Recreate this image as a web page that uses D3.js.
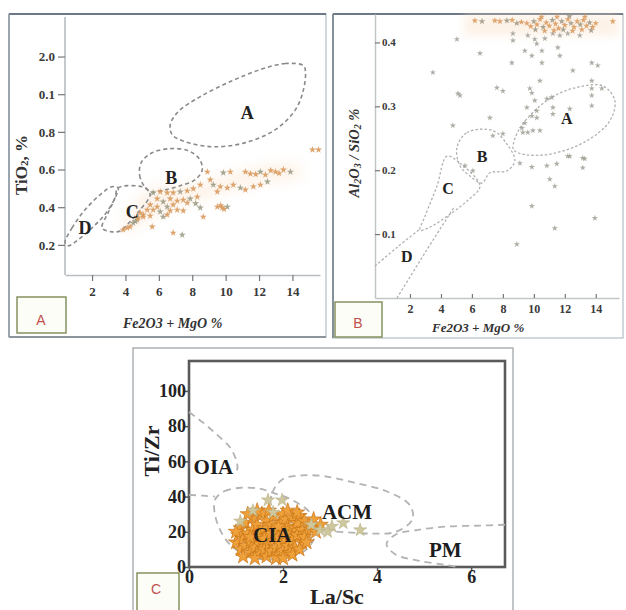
<!DOCTYPE html>
<html>
<head>
<meta charset="utf-8">
<script src="https://cdn.jsdelivr.net/npm/d3@7"></script>
<style>
  html, body { margin: 0; padding: 0; background: #fff; }
  svg { display: block; }
  text { font-family: "Liberation Serif", "DejaVu Serif", serif; }
</style>
</head>
<body>
<svg id="fig" width="626" height="610"></svg>
<script>
// ---------- Panel A: TiO2 vs Fe2O3 + MgO ----------
const aYTickValues = [0.2, 0.4, 0.6, 0.8, 1.0, 1.2];
const aYTickLabels = ["0.2", "0.4", "0.6", "0.8", "0.1", "2.0"];
const aXTickValues = [2, 4, 6, 8, 10, 12, 14];

const aFieldA = [[14.66,1.152],[13.58,1.163],[12.08,1.131],[10.28,1.067],[8.48,0.987],[7.16,0.907],[6.68,0.838],[6.8,0.785],[7.58,0.748],[9.26,0.721],[11.18,0.743],[12.98,0.812],[14.18,0.918],[14.66,1.024],[14.78,1.12]];
const aFieldB = [[5.48,0.482],[4.88,0.556],[4.94,0.636],[5.6,0.689],[6.68,0.711],[7.76,0.7],[8.42,0.657],[8.6,0.599],[8.18,0.546],[7.28,0.514],[6.38,0.493]];
const aFieldC = [[3.56,0.503],[5.18,0.503],[5.48,0.466],[4.88,0.386],[4.16,0.312],[3.68,0.274],[3.2,0.269],[2.6,0.29],[2.96,0.37],[3.38,0.45]];
const aFieldD = [[0.38,0.211],[0.8,0.29],[1.58,0.386],[2.48,0.466],[3.2,0.509],[3.56,0.503],[3.44,0.461],[2.84,0.37],[2.0,0.29],[1.16,0.227],[0.56,0.195]];
const aFieldLabels = [["A",11.3,0.9],["B",6.74,0.556],["C",4.4,0.377],["D",1.58,0.29]];

const aSamples = [[15.2,0.705],[15.56,0.705],
  [8.9,0.588],[9.86,0.583],[10.28,0.588],[11.18,0.588],[11.48,0.578],[12.08,0.588],[12.38,0.572],[12.98,0.588],[13.46,0.599],[13.88,0.588],[13.2,0.58],[12.7,0.595],[11.8,0.575],
  [9.26,0.519],[9.68,0.509],[10.1,0.503],[10.46,0.519],[10.88,0.503],[11.18,0.493],[11.66,0.509],[12.08,0.519],[12.5,0.535],[9.5,0.482],[9.08,0.546],[8.48,0.519],
  [5.66,0.477],[6.08,0.482],[6.5,0.477],[6.86,0.477],[7.28,0.482],[7.7,0.487],[8.06,0.498],
  [5.9,0.445],[6.26,0.429],[6.68,0.445],[7.1,0.434],[7.46,0.439],[7.88,0.445],[8.3,0.455],
  [5.48,0.413],[5.9,0.402],[6.5,0.402],[6.86,0.413],
  [5.3,0.386],[5.66,0.386],[6.08,0.376],[6.68,0.381],[7.1,0.386],[7.46,0.381],[8.48,0.397],
  [4.88,0.37],[5.06,0.349],[4.7,0.333],[4.46,0.317],[4.28,0.296],[4.1,0.29],[3.86,0.28],[4.6,0.325],[4.76,0.344],[5.06,0.36],[5.48,0.354],[6.26,0.349],[6.5,0.36],[8.66,0.349],
  [6.86,0.264],[7.4,0.253],[5.6,0.296],
  [9.5,0.402],[9.8,0.397],[10.1,0.402],[9.7,0.41],[9.9,0.39],
  [7.7,0.423],[8.2,0.42]];

// ---------- Panel B: Al2O3/SiO2 vs Fe2O3 + MgO ----------
const bYTickValues = [0.1, 0.2, 0.3, 0.4];
const bXTickValues = [2, 4, 6, 8, 10, 12, 14];

const bFieldA = [[8.65,0.235],[9.1,0.266],[10.84,0.309],[12.52,0.328],[14.45,0.332],[15.23,0.309],[14.9,0.277],[13.42,0.246],[11.23,0.226],[9.55,0.224],[8.77,0.23]];
const bFieldB = [[5.03,0.235],[5.68,0.259],[7.35,0.262],[8.26,0.241],[8.77,0.215],[8.26,0.199],[7.16,0.196],[6.65,0.18],[5.87,0.191],[5.23,0.207]];
const bFieldC = [[4.39,0.222],[5.23,0.211],[6.52,0.175],[5.74,0.153],[4.58,0.131],[3.29,0.111],[2.65,0.106],[2.97,0.128],[3.74,0.175]];
const bLineD1 = [[-0.26,0.05],[1.2,0.08],[2.65,0.108]];
const bLineD2 = [[1.16,0.0],[3.0,0.072],[4.9,0.144]];
const bFieldLabels = [["A",12.13,0.281],["B",6.65,0.222],["C",4.45,0.172],["D",1.8,0.065]];

const bBand = [[9.55,0.43],[9.8,0.425],[10.0,0.433],[10.2,0.428],[10.4,0.436],[10.6,0.424],[10.8,0.431],[11.0,0.426],[11.2,0.435],[11.4,0.429],[11.6,0.422],[11.8,0.433],[12.0,0.427],[12.2,0.436],[12.4,0.43],[12.6,0.424],[12.8,0.433],[13.0,0.428],[13.2,0.435],[13.4,0.426],[13.6,0.431],[13.8,0.424],[14.0,0.43],[10.1,0.42],[10.7,0.418],[11.3,0.419],[11.9,0.42],[12.5,0.418],[13.1,0.42],[13.7,0.419],[10.5,0.44],[11.5,0.44],[12.3,0.441],[13.3,0.44],[9.2,0.432],[8.9,0.43],[8.6,0.435],[6.19,0.434],[6.65,0.433],[7.48,0.434],[7.81,0.433],[8.26,0.434],[15.1,0.433]];
const bScatter = [[8.65,0.414],[8.65,0.403],[9.61,0.411],[10.06,0.405],[10.71,0.406],[11.23,0.414],[11.68,0.411],[12.19,0.414],[12.97,0.411],[5.03,0.405],[9.42,0.387],[10.19,0.398],[10.52,0.387],[11.55,0.392],[11.68,0.379],[9.87,0.379],[10.52,0.368],[6.52,0.383],[8.58,0.368],[13.74,0.368],[14.13,0.364],[12.52,0.356],[3.48,0.353],[13.74,0.34],[10.39,0.34],[7.61,0.329],[8.0,0.324],[9.74,0.328],[9.87,0.321],[13.74,0.328],[14.39,0.328],[5.23,0.317],[10.06,0.309],[10.84,0.312],[11.16,0.314],[13.74,0.317],[12.32,0.296],[9.55,0.298],[11.23,0.298],[10.19,0.293],[13.74,0.301],[11.23,0.288],[7.16,0.282],[10.19,0.282],[4.77,0.27],[8.0,0.257],[9.29,0.259],[9.61,0.259],[9.94,0.262],[10.39,0.262],[9.23,0.266],[9.42,0.274],[9.87,0.285],[12.19,0.222],[13.16,0.219],[9.1,0.211],[9.87,0.205],[10.84,0.207],[11.48,0.21],[11.03,0.186],[11.35,0.175],[13.29,0.218],[13.16,0.204],[9.87,0.144],[11.35,0.109],[8.9,0.084],[13.94,0.125],[12.32,0.222],[7.35,0.254],[5.1,0.32],[5.55,0.207],[6.06,0.199]];

// ---------- Panel C: Ti/Zr vs La/Sc ----------
const cXTickValues = [0, 2, 4, 6];
const cYTickValues = [0, 20, 40, 60, 80, 100];

const cOIA = [[0,88],[0.3,82],[0.6,75],[0.87,68],[1.0,61],[1.03,56],[0.98,53]];
const cLine40 = [[0,41],[0.3,40.5],[0.55,40]];
const cCIA = [[0.55,38],[0.75,43],[1.1,45],[1.5,44.5],[1.8,42],[2.2,38],[2.6,30],[2.7,20],[2.5,10],[2.0,5],[1.4,5],[0.9,12],[0.6,25]];
const cACM = [[1.77,32],[1.77,42],[2.0,50],[2.4,52],[2.9,51.5],[3.5,48],[4.2,43],[4.7,35],[4.75,27],[4.4,20],[3.9,19],[3.2,20],[2.7,21]];
const cPM = [[6.72,24],[6.2,23.5],[5.5,23],[4.85,21],[4.4,18.5],[4.2,13],[4.4,7],[4.9,3.5],[5.5,1],[5.7,0]];
const cFieldLabels = [["OIA",0.52,57],["ACM",3.36,31],["CIA",1.77,18],["PM",5.45,9.5]];

const cCluster = [[1.0,14],[1.05,18],[1.1,10],[1.1,22],[1.15,16],[1.2,12],[1.2,25],[1.25,19],[1.3,8],[1.3,14],[1.35,21],[1.35,28],[1.4,11],[1.4,17],[1.45,24],[1.5,7],[1.5,13],[1.5,19],[1.55,30],[1.55,15],[1.6,10],[1.6,22],[1.65,26],[1.65,6],[1.7,13],[1.7,18],[1.75,9],[1.75,24],[1.8,15],[1.8,29],[1.85,11],[1.85,20],[1.9,7],[1.9,17],[1.95,25],[1.95,13],[2.0,9],[2.0,21],[2.0,30],[2.05,16],[2.05,27],[2.1,12],[2.1,23],[2.15,19],[2.15,8],[2.2,28],[2.2,15],[2.25,22],[2.25,11],[2.3,25],[2.3,18],[2.35,29],[2.4,21],[2.4,14],[2.45,26],[2.5,19],[2.55,24],[2.6,22],[2.65,27],[1.25,30],[1.45,32],[1.7,32],[2.1,32],[2.3,31],[1.0,20],[1.15,6],[1.4,5],[1.85,5],[2.0,5],[2.2,7],[2.35,10],[1.6,16],[1.9,23],[2.05,19],[1.3,17],[1.75,19],[2.45,17],[2.7,20],[2.8,24],[2.5,14]];
const cOutliers = [[1.68,38],[1.98,38],[1.36,32],[1.09,26],[1.79,31],[2.79,21],[3.04,23],[3.28,25],[3.64,21],[2.6,24],[2.95,20]];

// ---------- drawing ----------
const svg = d3.select("#fig");

const star = size => d3.symbol().type(d3.symbolStar).size(size)();
const closedPath = (g, pts, x, y, style) =>
  g.append("path")
    .attr("d", d3.line().x(d => x(d[0])).y(d => y(d[1])).curve(d3.curveCatmullRomClosed.alpha(0.5))(pts))
    .attr("fill", "none").attr("stroke", style.color).attr("stroke-width", style.width)
    .attr("stroke-dasharray", style.dash);
const openPath = (g, pts, x, y, style) =>
  g.append("path")
    .attr("d", d3.line().x(d => x(d[0])).y(d => y(d[1])).curve(d3.curveCatmullRom.alpha(0.5))(pts))
    .attr("fill", "none").attr("stroke", style.color).attr("stroke-width", style.width)
    .attr("stroke-dasharray", style.dash);

function panelTag(x, y, w, h, letter, tx, ty) {
  svg.append("rect").attr("x", x).attr("y", y).attr("width", w).attr("height", h)
    .attr("fill", "#fdfdf8").attr("stroke", "#7d8a55").attr("stroke-width", 1.4);
  svg.append("text").attr("x", tx).attr("y", ty).attr("text-anchor", "middle")
    .attr("dominant-baseline", "central")
    .style("font-family", "'Liberation Sans', Arial, sans-serif")
    .style("font-size", "14px").attr("fill", "#c0504d").text(letter);
}

// ----- Panel A -----
{
  const g = svg.append("g");
  g.append("rect").attr("x", 9).attr("y", 14).attr("width", 317).attr("height", 323)
    .attr("fill", "#fff").attr("stroke", "#b4bcc4").attr("stroke-width", 1.2);
  g.append("line").attr("x1", 9).attr("x2", 326).attr("y1", 14).attr("y2", 14)
    .attr("stroke", "#6c7885").attr("stroke-width", 2);
  g.append("line").attr("x1", 9).attr("x2", 9).attr("y1", 14).attr("y2", 337)
    .attr("stroke", "#8d99a5").attr("stroke-width", 1.6);
  g.append("line").attr("x1", 9).attr("x2", 326).attr("y1", 337).attr("y2", 337)
    .attr("stroke", "#8d959c").attr("stroke-width", 2);

  const x = d3.scaleLinear().domain([0.38, 15.65]).range([65, 320]);
  const y = d3.scaleLinear().domain([0.04, 1.41]).range([275, 17]);

  // light haze around the sample trend
  g.append("path")
    .attr("d", d3.line().x(d => x(d[0])).y(d => y(d[1])).curve(d3.curveCatmullRomClosed)([[4,0.27],[6,0.36],[9,0.45],[12,0.52],[14.5,0.56],[14.5,0.62],[12,0.62],[8,0.52],[5.5,0.5],[3.8,0.33]]))
    .attr("fill", "#fbe6d2").attr("opacity", 0.45).style("filter", "blur(6px)");

  const yAxis = g.append("g").attr("transform", `translate(${x.range()[0]},0)`)
    .call(d3.axisLeft(y).tickValues(aYTickValues).tickSize(7).tickSizeOuter(0)
      .tickFormat((d, i) => aYTickLabels[i]));
  const xAxis = g.append("g").attr("transform", `translate(0,${y.range()[0]})`)
    .call(d3.axisBottom(x).tickValues(aXTickValues).tickSize(6).tickSizeOuter(0).tickFormat(d3.format("d")));
  [yAxis, xAxis].forEach(ax => {
    ax.select(".domain").attr("stroke", "#b9bdc0").attr("stroke-width", 1.6);
    ax.selectAll(".tick line").attr("stroke", "#777").attr("stroke-width", 1.2);
    ax.selectAll(".tick text").attr("fill", "#3a3a3a")
      .style("font-family", "'Liberation Serif', serif").style("font-weight", "bold").style("font-size", "13px");
  });
  yAxis.select(".domain").attr("d", `M0,${y.range()[1]}V${y.range()[0]}`);
  xAxis.selectAll(".tick text").attr("dy", "0.95em");

  const st = { color: "#8a8a8a", width: 1.6, dash: "4,3" };
  closedPath(g, aFieldA, x, y, st);
  closedPath(g, aFieldB, x, y, st);
  closedPath(g, aFieldC, x, y, st);
  closedPath(g, aFieldD, x, y, st);

  g.selectAll(".ap").data(aSamples).join("path")
    .attr("transform", d => `translate(${x(d[0])},${y(d[1])})`)
    .attr("d", star(16)).attr("fill", (d, i) => i % 4 === 3 ? "#9c9c86" : "#d99a5e").attr("opacity", 0.9);

  g.selectAll(".al").data(aFieldLabels).join("text")
    .attr("x", d => x(d[1])).attr("y", d => y(d[2])).attr("text-anchor", "middle")
    .attr("dominant-baseline", "central")
    .style("font-weight", "bold").style("font-size", "18px").attr("fill", "#222").text(d => d[0]);

  g.append("text").attr("transform", "translate(21,165) rotate(-90)").attr("text-anchor", "middle")
    .attr("dominant-baseline", "central")
    .style("font-weight", "bold").style("font-size", "17px").attr("fill", "#333")
    .append("tspan").text("TiO").append("tspan").attr("font-size", "11px").attr("dy", "3").text("2")
    .append("tspan").attr("dy", "-3").attr("font-size", "17px").text(", %");

  g.append("text").attr("x", 123).attr("y", 328)
    .style("font-weight", "bold").style("font-style", "italic").style("font-size", "14px").attr("fill", "#333")
    .text("Fe2O3 + MgO %");
}
panelTag(17, 297, 49, 36, "A", 41, 320);

// ----- Panel B -----
{
  const g = svg.append("g");
  g.append("rect").attr("x", 333).attr("y", 14).attr("width", 290).attr("height", 324)
    .attr("fill", "#fff").attr("stroke", "#b4bcc4").attr("stroke-width", 1.2);
  g.append("line").attr("x1", 333).attr("x2", 623).attr("y1", 14).attr("y2", 14)
    .attr("stroke", "#6c7885").attr("stroke-width", 2);
  g.append("line").attr("x1", 333).attr("x2", 333).attr("y1", 14).attr("y2", 338)
    .attr("stroke", "#7c8894").attr("stroke-width", 1.8);

  const x = d3.scaleLinear().domain([-0.26, 15.5]).range([375, 619]);
  const y = d3.scaleLinear().domain([0, 0.4445]).range([298, 14]);

  g.append("rect").attr("x", x(5.5)).attr("y", y(0.4445)).attr("width", x(15.5) - x(5.5)).attr("height", y(0.41) - y(0.4445))
    .attr("fill", "#fbe4cd").attr("opacity", 0.45).style("filter", "blur(4px)");

  const yAxis = g.append("g").attr("transform", `translate(${x.range()[0]},0)`)
    .call(d3.axisRight(y).tickValues(bYTickValues).tickSize(5).tickSizeOuter(0).tickFormat(d3.format(".1f")));
  const xAxis = g.append("g").attr("transform", `translate(0,${y.range()[0]})`)
    .call(d3.axisBottom(x).tickValues(bXTickValues).tickSize(-4).tickSizeOuter(0).tickFormat(d3.format("d")));
  [yAxis, xAxis].forEach(ax => {
    ax.select(".domain").attr("stroke", "#c2c5c8").attr("stroke-width", 1.5);
    ax.selectAll(".tick line").attr("stroke", "#777").attr("stroke-width", 1.2);
    ax.selectAll(".tick text").attr("fill", "#3a3a3a")
      .style("font-family", "'Liberation Serif', serif").style("font-weight", "bold").style("font-size", "11px");
  });
  yAxis.selectAll(".tick text").attr("x", 7);
  xAxis.selectAll(".tick text").attr("y", 6).attr("dy", "0.71em").style("font-size", "12px");

  const st = { color: "#b0b0b0", width: 1.3, dash: "2.5,2" };
  closedPath(g, bFieldA, x, y, st);
  closedPath(g, bFieldB, x, y, st);
  closedPath(g, bFieldC, x, y, st);
  openPath(g, bLineD1, x, y, st);
  openPath(g, bLineD2, x, y, st);

  g.selectAll(".bs").data(bScatter).join("path")
    .attr("transform", d => `translate(${x(d[0])},${y(d[1])})`)
    .attr("d", star(12)).attr("fill", "#9a9a90").attr("opacity", 0.8);
  g.selectAll(".bb").data(bBand).join("path")
    .attr("transform", d => `translate(${x(d[0])},${y(d[1])})`)
    .attr("d", star(14)).attr("fill", (d, i) => i % 3 === 2 ? "#a29a86" : "#dc9c62").attr("opacity", 0.9);

  g.selectAll(".bl").data(bFieldLabels).join("text")
    .attr("x", d => x(d[1])).attr("y", d => y(d[2])).attr("text-anchor", "middle")
    .attr("dominant-baseline", "central")
    .style("font-weight", "bold").style("font-size", "16px").attr("fill", "#222").text(d => d[0]);

  const yt = g.append("text").attr("transform", "translate(354,153) rotate(-90)").attr("text-anchor", "middle")
    .attr("dominant-baseline", "central")
    .style("font-weight", "bold").style("font-style", "italic").style("font-size", "14.5px").attr("fill", "#333");
  yt.append("tspan").text("Al");
  yt.append("tspan").attr("dy", 3).style("font-size", "10px").text("2");
  yt.append("tspan").attr("dy", -3).text("O");
  yt.append("tspan").attr("dy", 3).style("font-size", "10px").text("3");
  yt.append("tspan").attr("dy", -3).text(" / SiO");
  yt.append("tspan").attr("dy", 3).style("font-size", "10px").text("2");
  yt.append("tspan").attr("dy", -3).text(" %");

  g.append("text").attr("x", 432).attr("y", 332)
    .style("font-weight", "bold").style("font-style", "italic").style("font-size", "13px").attr("fill", "#333")
    .text("Fe2O3 + MgO %");
}
panelTag(335, 302, 47, 35, "B", 358, 323);

// ----- Panel C -----
{
  const g = svg.append("g");
  g.append("rect").attr("x", 133).attr("y", 348).attr("width", 380).attr("height", 270)
    .attr("fill", "#fff").attr("stroke", "#9a9fa3").attr("stroke-width", 1.2);

  const x = d3.scaleLinear().domain([0, 6.72]).range([189, 505]);
  const y = d3.scaleLinear().domain([0, 117]).range([567, 361]);

  g.append("rect").attr("x", 189).attr("y", 361).attr("width", 316).attr("height", 206)
    .attr("fill", "none").attr("stroke", "#5a5a5a").attr("stroke-width", 2.6);

  const st = { color: "#b3b3b3", width: 1.8, dash: "7,5" };
  openPath(g, cOIA, x, y, st);
  openPath(g, cLine40, x, y, st);
  closedPath(g, cCIA, x, y, st);
  closedPath(g, cACM, x, y, st);
  openPath(g, cPM, x, y, st);

  g.selectAll(".cc").data(cCluster).join("path")
    .attr("transform", d => `translate(${x(d[0])},${y(d[1])})`)
    .attr("d", star(72)).attr("fill", "#eea03a").attr("stroke", "#c97415").attr("stroke-width", 0.7);
  g.selectAll(".co").data(cOutliers).join("path")
    .attr("transform", d => `translate(${x(d[0])},${y(d[1])})`)
    .attr("d", star(55)).attr("fill", "#cfc79e").attr("stroke", "#b3aa80").attr("stroke-width", 0.5);

  const yAxis = g.append("g").attr("transform", `translate(${x.range()[0]},0)`)
    .call(d3.axisLeft(y).tickValues(cYTickValues).tickSize(4).tickSizeOuter(0).tickFormat(d3.format("d")));
  const xAxis = g.append("g").attr("transform", `translate(0,${y.range()[0]})`)
    .call(d3.axisBottom(x).tickValues(cXTickValues).tickSize(4).tickSizeOuter(0).tickFormat(d3.format("d")));
  [yAxis, xAxis].forEach(ax => {
    ax.select(".domain").remove();
    ax.selectAll(".tick line").attr("stroke", "#555").attr("stroke-width", 1.5);
    ax.selectAll(".tick text").attr("fill", "#222")
      .style("font-family", "'Liberation Serif', serif").style("font-weight", "bold").style("font-size", "18px");
  });
  yAxis.selectAll(".tick text").attr("x", -3);
  xAxis.selectAll(".tick text").attr("y", 3);

  g.selectAll(".cl").data(cFieldLabels).join("text")
    .attr("x", d => x(d[1])).attr("y", d => y(d[2])).attr("text-anchor", "middle")
    .attr("dominant-baseline", "central")
    .style("font-weight", "bold").style("font-size", "21px").attr("fill", "#1c1c1c").text(d => d[0]);

  g.append("text").attr("transform", "translate(151,451) rotate(-90)").attr("text-anchor", "middle")
    .attr("dominant-baseline", "central")
    .style("font-weight", "bold").style("font-size", "22px").attr("fill", "#222").text("Ti/Zr");
  g.append("text").attr("x", 337).attr("y", 604).attr("text-anchor", "middle")
    .style("font-weight", "bold").style("font-size", "22px").attr("fill", "#222").text("La/Sc");
}
panelTag(137, 573, 42, 40, "C", 156, 589);
</script>
</body>
</html>
